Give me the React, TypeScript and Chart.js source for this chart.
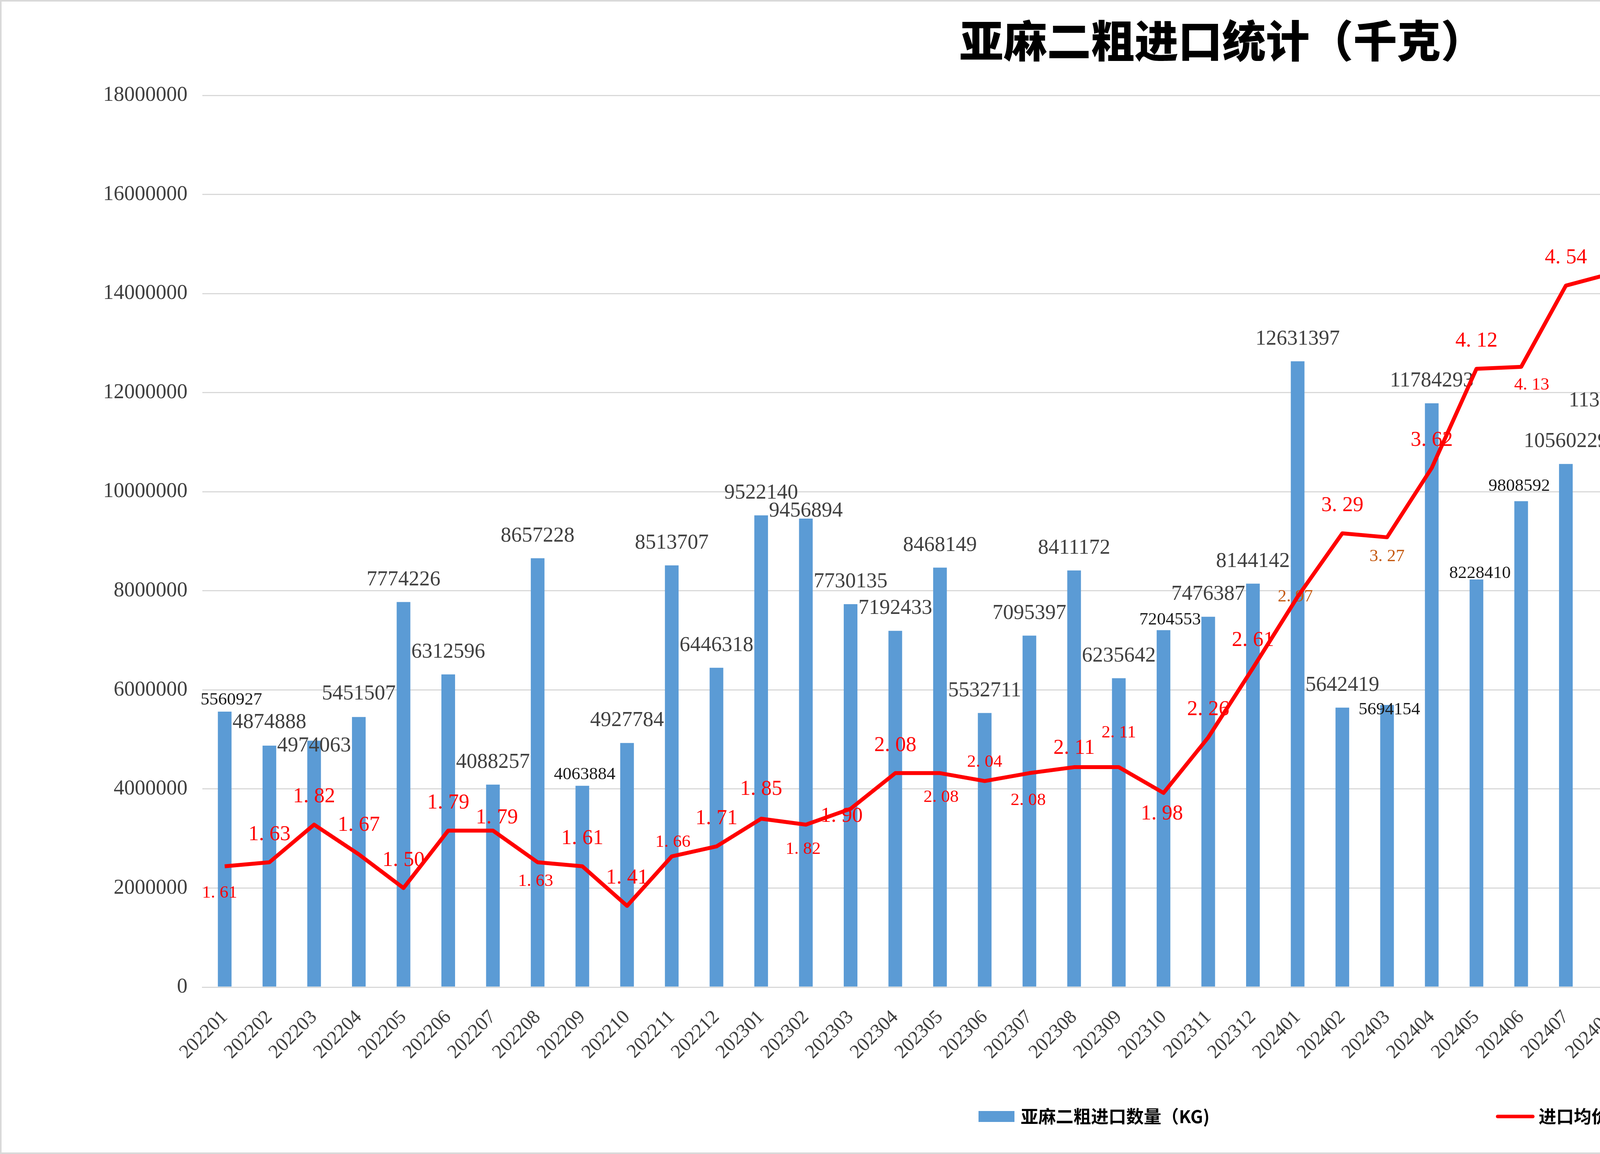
import React, { useEffect, useRef } from 'react';
import { Chart, registerables } from 'chart.js';

Chart.register(...registerables);

const months = [
  '202201', '202202', '202203', '202204', '202205', '202206', '202207', '202208', '202209', '202210', '202211', '202212',
  '202301', '202302', '202303', '202304', '202305', '202306', '202307', '202308', '202309', '202310', '202311', '202312',
  '202401', '202402', '202403', '202404', '202405', '202406', '202407', '202408', '202409', '202410', '202411', '202412',
  '202501', '202502', '202503', '202504', '202505', '202506', '202507', '202508', '202509', '202510', '202511',
];

const importVolume = [
  5560927, 4874888, 4974063, 5451507, 7774226, 6312596, 4088257, 8657228, 4063884, 4927784, 8513707, 6446318,
  9522140, 9456894, 7730135, 7192433, 8468149, 5532711, 7095397, 8411172, 6235642, 7204553, 7476387, 8144142,
  12631397, 5642419, 5694154, 11784293, 8228410, 9808592, 10560229, 11386927, 9492063, 7373671, 3315031, 2959853,
  2891151, 1437667, 1761987, 5870722, 9636649, 15538444, 11351740, 11324254, 8376786, 6388772, 4240775,
];

const avgPrice = [
  1.61, 1.63, 1.82, 1.67, 1.5, 1.79, 1.79, 1.63, 1.61, 1.41, 1.66, 1.71,
  1.85, 1.82, 1.9, 2.08, 2.08, 2.04, 2.08, 2.11, 2.11, 1.98, 2.26, 2.61,
  2.97, 3.29, 3.27, 3.62, 4.12, 4.13, 4.54, 4.6, 4.74, 4.83, 4.4, 4.19,
  3.55, 3.58, 2.04, 2.11, 2.22, 2.48, 2.65, 2.81, 3.09, 3.29, 2.9,
];

const volumeTicks = [0, 2000000, 4000000, 6000000, 8000000, 10000000, 12000000, 14000000, 16000000, 18000000];
const priceTicks = [1.0, 1.5, 2.0, 2.5, 3.0, 3.5, 4.0, 4.5, 5.0, 5.5];

const TITLE = '亚麻二粗进口统计（千克）';
const VOLUME_LABEL = '亚麻二粗进口数量（KG)';
const PRICE_LABEL = '进口均价（$/KG)';

// label placement tweaks (dx, dy from anchor, font size) - hand-dragged labels in the original
const BIG = 54;
const SMALL = 45;
const barLabelAdjust: Record<number, [number, number, number]> = {
  0: [17, -30, SMALL],
  1: [0, -59, BIG],
  2: [0, 13, BIG],
  3: [0, -59, BIG],
  8: [6, -29, SMALL],
  13: [0, -19, BIG],
  21: [17, -26, SMALL],
  26: [6, 12, SMALL],
  28: [9, -16, SMALL],
  29: [-5, -38, SMALL],
  36: [-3, -2, SMALL],
  37: [-4, -33, SMALL],
  41: [-9, -99, SMALL],
  42: [18, 5, SMALL],
  43: [0, -43, SMALL],
};
const lineLabelAdjust: Record<number, [number, number, number]> = {
  0: [-13, 69, SMALL],
  3: [0, -74, BIG],
  6: [10, -33, BIG],
  7: [-5, 49, SMALL],
  10: [3, -36, SMALL],
  12: [0, -75, BIG],
  13: [-7, 63, SMALL],
  14: [-23, 19, BIG],
  16: [3, 62, SMALL],
  17: [0, -48, SMALL],
  18: [-3, 70, SMALL],
  19: [0, -48, BIG],
  20: [0, -88, SMALL],
  21: [-4, 54, BIG],
  24: [-6, 0, SMALL],
  26: [0, 49, SMALL],
  29: [27, 46, SMALL],
  31: [102, 58, SMALL],
  37: [92, -16, SMALL],
  38: [3, 47, SMALL],
  44: [15, -9, SMALL],
};
const orangeLabels = [24, 26];

const SERIF = '"Liberation Serif", "Times New Roman", serif';
const SANS_CJK = '"Noto Sans CJK SC", "Noto Sans", sans-serif';
const BAR_COLOR = '#5B9BD5';
const LINE_COLOR = '#FF0000';
const GRID_COLOR = '#D9D9D9';

const fmtPrice = (v: number) => v.toFixed(2).replace('.', '. ');

const decorations = {
  id: 'decorations',
  beforeDraw(chart: any) {
    const { ctx, width, height } = chart;
    ctx.save();
    ctx.fillStyle = '#ffffff';
    ctx.fillRect(0, 0, width, height);
    ctx.strokeStyle = GRID_COLOR;
    ctx.lineWidth = 4;
    ctx.strokeRect(2, 2, width - 4, height - 4);
    ctx.restore();
  },
  afterDatasetDraw(chart: any, args: any) {
    if (args.index !== 0) return;
    const ctx = chart.ctx;
    const bars = chart.getDatasetMeta(0).data;
    const points = chart.getDatasetMeta(1).data;
    ctx.save();
    ctx.textAlign = 'center';
    ctx.textBaseline = 'middle';
    bars.forEach((bar: any, i: number) => {
      const [dx, dy, size] = barLabelAdjust[i] || [0, -57, BIG];
      ctx.font = `${size}px ${SERIF}`;
      ctx.fillStyle = size === BIG ? '#404040' : '#1a1a1a';
      ctx.fillText(String(importVolume[i]), bar.x + dx, bar.y + dy);
    });
    points.forEach((pt: any, i: number) => {
      const [dx, dy, size] = lineLabelAdjust[i] || [0, -71, BIG];
      ctx.font = `${size}px ${SERIF}`;
      ctx.fillStyle = orangeLabels.includes(i) ? '#C55A11' : LINE_COLOR;
      ctx.fillText(fmtPrice(avgPrice[i]), pt.x + dx, pt.y + dy);
    });
    ctx.restore();
  },
  afterDraw(chart: any) {
    const ctx = chart.ctx;
    const cx = chart.width / 2;
    ctx.save();
    ctx.fillStyle = '#000000';
    ctx.textAlign = 'center';
    ctx.textBaseline = 'middle';
    ctx.font = `900 112px ${SANS_CJK}`;
    ctx.fillText(TITLE, cx, 104);

    // legend
    const ly = 2857;
    ctx.font = `bold 45px ${SANS_CJK}`;
    ctx.textAlign = 'left';
    ctx.fillStyle = BAR_COLOR;
    ctx.fillRect(2505, ly - 14, 92, 28);
    ctx.fillStyle = '#000000';
    ctx.fillText(VOLUME_LABEL, 2613, ly);
    ctx.strokeStyle = LINE_COLOR;
    ctx.lineWidth = 9;
    ctx.lineCap = 'round';
    ctx.beginPath();
    ctx.moveTo(3834, ly);
    ctx.lineTo(3924, ly);
    ctx.stroke();
    ctx.fillText(PRICE_LABEL, 3939, ly);
    ctx.restore();
  },
};

const App = () => {
  const canvasRef = useRef<HTMLCanvasElement>(null);

  useEffect(() => {
    document.body.style.margin = '0';
    const chart = new Chart(canvasRef.current as HTMLCanvasElement, {
      type: 'bar',
      data: {
        labels: months,
        datasets: [
          {
            type: 'bar',
            label: VOLUME_LABEL,
            data: importVolume,
            backgroundColor: BAR_COLOR,
            borderWidth: 0,
            categoryPercentage: 1,
            barPercentage: 0.306,
            yAxisID: 'y',
            order: 1,
          },
          {
            type: 'line',
            label: PRICE_LABEL,
            data: avgPrice,
            borderColor: LINE_COLOR,
            backgroundColor: LINE_COLOR,
            borderWidth: 10,
            borderJoinStyle: 'round',
            pointRadius: 0,
            tension: 0,
            yAxisID: 'y1',
            order: 0,
          },
        ] as any,
      },
      options: {
        responsive: false,
        devicePixelRatio: 1,
        animation: false,
        layout: { padding: { top: 244, left: 0, right: 0, bottom: 0 } },
        plugins: {
          legend: { display: false },
          title: { display: false },
          tooltip: { enabled: false },
        },
        scales: {
          x: {
            grid: { display: false },
            border: { display: true, color: GRID_COLOR, width: 3 },
            ticks: {
              autoSkip: false,
              minRotation: 45,
              maxRotation: 45,
              padding: 40,
              color: '#404040',
              font: { family: SERIF, size: 50 },
            },
            afterFit: (scale: any) => {
              scale.height = 2953 - 2526;
            },
          },
          y: {
            position: 'left',
            min: volumeTicks[0],
            max: volumeTicks[volumeTicks.length - 1],
            grid: { color: GRID_COLOR, lineWidth: 3, drawTicks: false },
            border: { display: false },
            ticks: {
              stepSize: volumeTicks[1] - volumeTicks[0],
              padding: 38,
              color: '#404040',
              font: { family: SERIF, size: 54 },
              callback: (v: any) => String(v),
            },
            afterFit: (scale: any) => {
              scale.width = 518;
            },
          },
          y1: {
            position: 'right',
            min: priceTicks[0],
            max: priceTicks[priceTicks.length - 1],
            grid: { display: false, drawTicks: false },
            border: { display: false },
            ticks: {
              stepSize: priceTicks[1] - priceTicks[0],
              padding: 37,
              color: '#404040',
              font: { family: SERIF, size: 54 },
              callback: (v: any) => fmtPrice(Number(v)),
            },
            afterFit: (scale: any) => {
              scale.width = 6257 - 5897;
            },
          },
        },
      },
      plugins: [decorations],
    });

    return () => chart.destroy();
  }, []);

  return (
    <div style={{ width: 6257, height: 2953 }}>
      <canvas ref={canvasRef} width={6257} height={2953} />
    </div>
  );
};

export default App;
